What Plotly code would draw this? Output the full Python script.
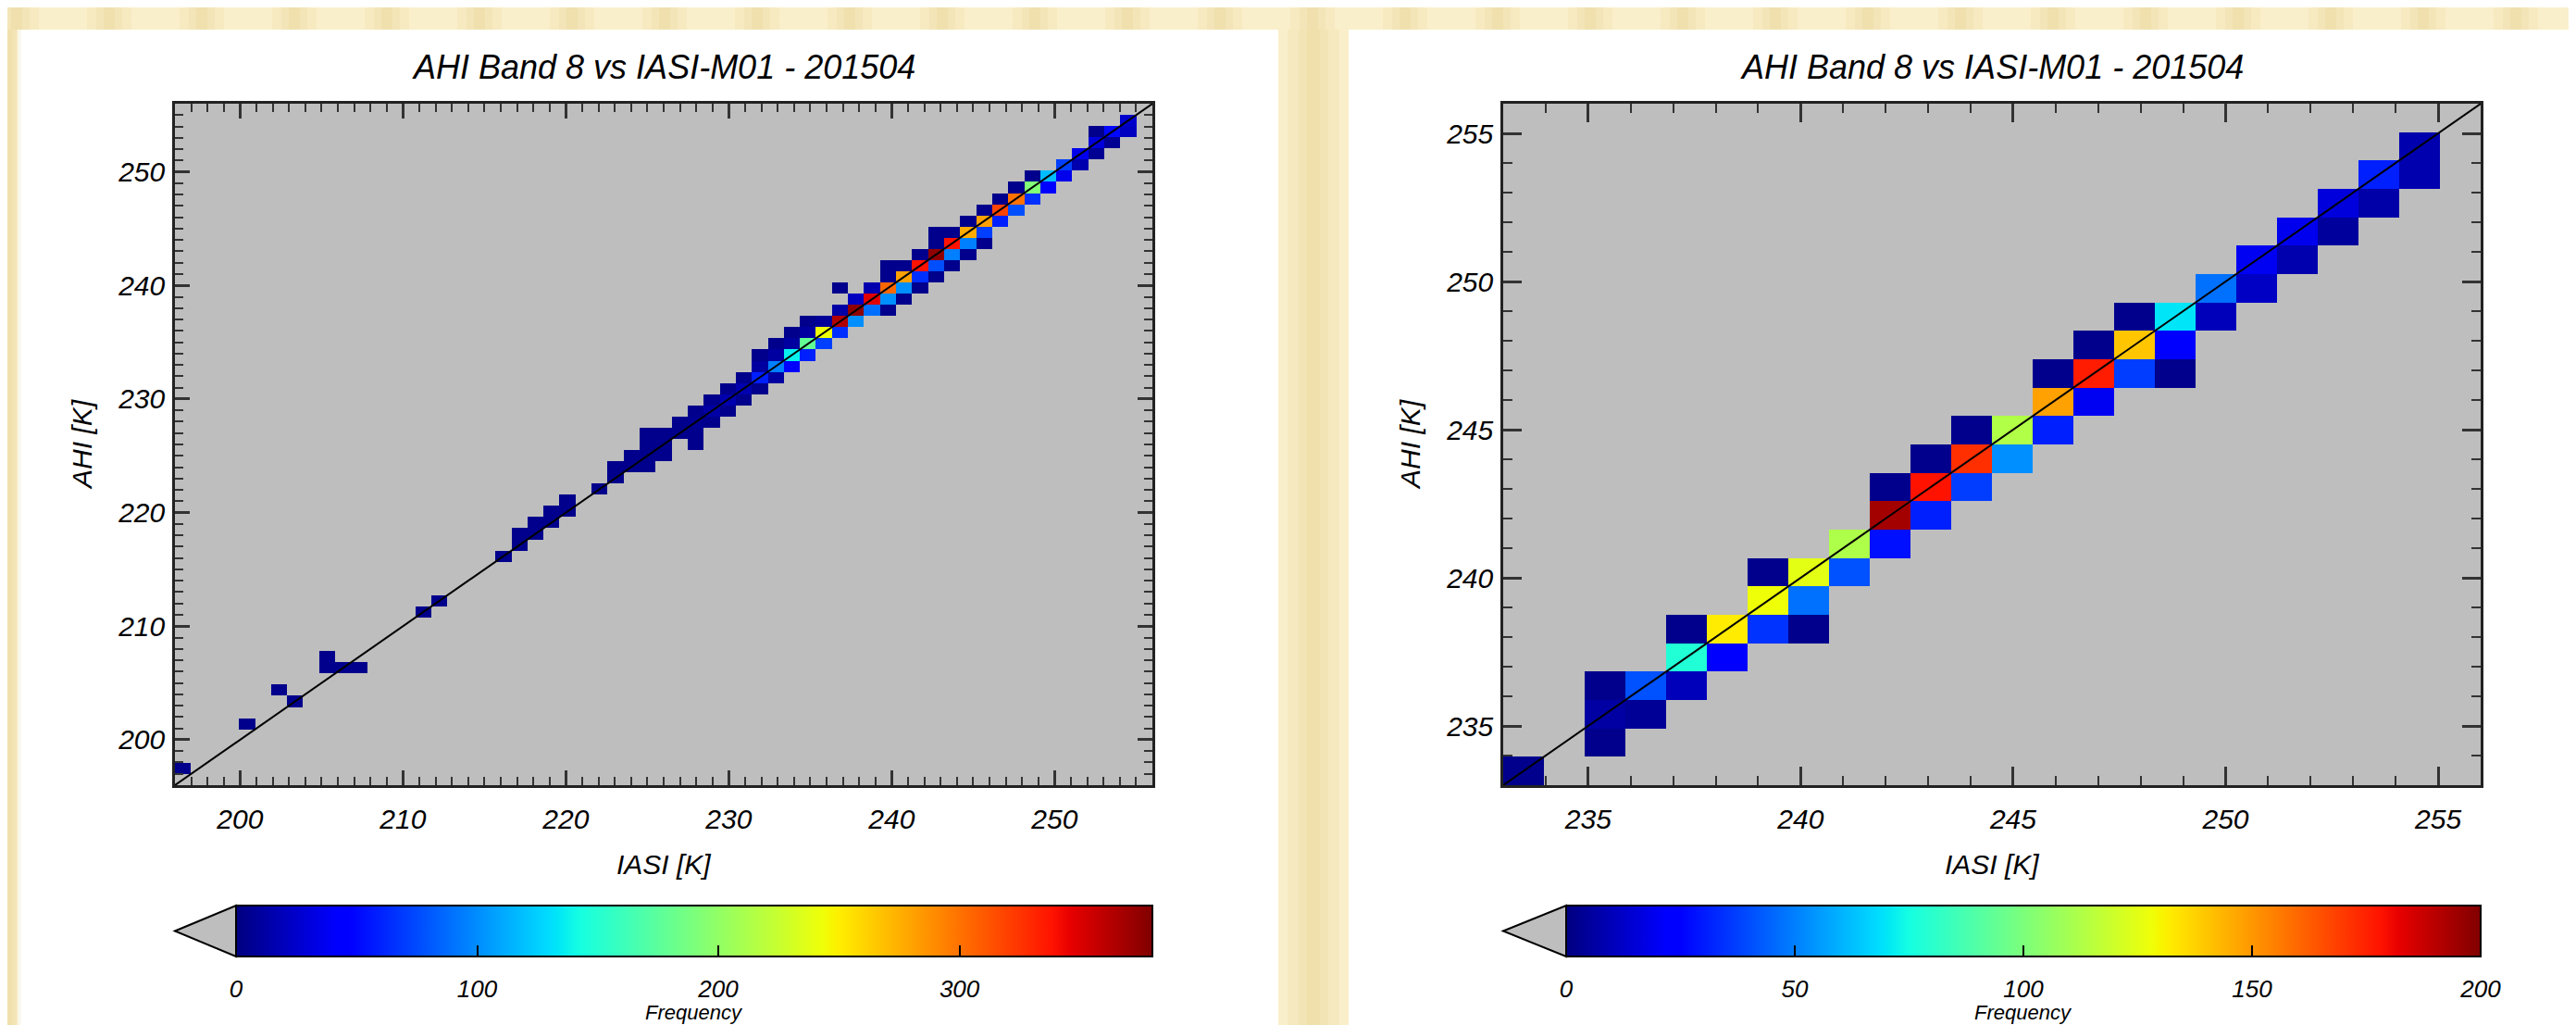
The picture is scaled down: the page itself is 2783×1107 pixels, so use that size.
import numpy as np
import plotly.graph_objects as go

W, H = 2783, 1107

title_text = "AHI Band 8 vs IASI-M01 - 201504"
x_title = "IASI [K]"
y_title = "AHI [K]"
cbar_title = "Frequency"

# ---------------- left panel data ----------------
left_range = [196, 256]
left_nbins = 61
left_cmax = 380
left_ticks = [200, 210, 220, 230, 240, 250]
left_cbar_ticks = [0, 100, 200, 300]
left_cols = [0, 4, 6, 7, 9, 9, 10, 11, 15, 16, 20, 21, 21, 22, 22, 23, 23, 24, 24, 26,
             27, 27, 28, 29, 28, 29, 30, 29, 30, 32, 29, 30, 31, 32, 31, 32, 33, 32, 33, 34,
             33, 34, 35, 34, 35, 36, 35, 36, 37, 36, 37, 38, 36, 37, 38, 39, 37, 38, 39, 40,
             38, 39, 40, 41, 39, 40, 41, 42, 41, 42, 43, 44, 42, 43, 44, 45, 41, 43, 44, 45,
             46, 44, 45, 46, 47, 44, 45, 46, 47, 48, 46, 47, 48, 49, 47, 48, 49, 50, 47, 48,
             49, 50, 49, 50, 51, 50, 51, 52, 51, 52, 53, 52, 53, 54, 53, 54, 55, 55, 56, 56,
             57, 57, 58, 57, 58, 59, 59]
left_rows = [1, 5, 8, 7, 10, 11, 10, 10, 15, 16, 20, 21, 22, 22, 23, 23, 24, 24, 25, 26,
             27, 28, 28, 28, 29, 29, 29, 30, 30, 30, 31, 31, 31, 31, 32, 32, 32, 33, 33, 33,
             34, 34, 34, 35, 35, 35, 36, 36, 36, 37, 37, 37, 38, 38, 38, 38, 39, 39, 39, 39,
             40, 40, 40, 40, 41, 41, 41, 41, 42, 42, 42, 42, 43, 43, 43, 43, 44, 44, 44, 44,
             44, 45, 45, 45, 45, 46, 46, 46, 46, 46, 47, 47, 47, 47, 48, 48, 48, 48, 49, 49,
             49, 49, 50, 50, 50, 51, 51, 51, 52, 52, 52, 53, 53, 53, 54, 54, 54, 55, 55, 56,
             56, 57, 57, 58, 58, 58, 59]
left_counts = [4, 4, 4, 4, 4, 4, 4, 4, 4, 4, 4, 4, 4, 4, 4, 4, 4, 4, 4, 4,
               4, 4, 4, 4, 4, 4, 4, 4, 4, 4, 4, 4, 4, 4, 4, 6, 4, 4, 12, 4,
               4, 15, 4, 4, 15, 4, 4, 59, 11, 11, 95, 44, 4, 11, 137, 59, 4, 11, 178, 71,
               4, 11, 243, 65, 4, 8, 364, 101, 12, 375, 89, 4, 21, 348, 101, 4, 4, 15, 304, 101,
               4, 4, 281, 65, 4, 4, 4, 338, 77, 4, 4, 375, 95, 4, 4, 338, 95, 4, 4, 4,
               277, 71, 4, 281, 59, 4, 319, 77, 4, 300, 65, 4, 192, 44, 4, 118, 36, 71, 15, 36,
               6, 30, 6, 4, 50, 21, 25]

# ---------------- right panel data ----------------
right_range = [233, 256]
right_nbins = 24
right_cmax = 200
right_ticks = [235, 240, 245, 250, 255]
right_cbar_ticks = [0, 50, 100, 150, 200]
right_cols = [0, 2, 2, 2, 3, 3, 4, 4, 4, 5, 5, 6, 6, 6, 7, 7, 7, 8, 8, 9,
              9, 9, 10, 10, 10, 11, 11, 11, 12, 12, 13, 13, 14, 13, 14, 15, 16, 14, 15, 16,
              15, 16, 17, 17, 18, 18, 19, 19, 20, 20, 21, 21, 22, 22]
right_rows = [0, 1, 2, 3, 2, 3, 3, 4, 5, 4, 5, 5, 6, 7, 5, 6, 7, 7, 8, 8,
              9, 10, 9, 10, 11, 10, 11, 12, 11, 12, 12, 13, 13, 14, 14, 14, 14, 15, 15, 15,
              16, 16, 16, 17, 17, 18, 18, 19, 19, 20, 20, 21, 21, 22]
right_counts = [2, 2, 6, 2, 4, 41, 10, 78, 2, 23, 132, 35, 128, 2, 2, 47, 125, 41, 112, 28,
                194, 2, 31, 178, 2, 37, 172, 2, 53, 113, 31, 148, 20, 2, 176, 37, 2, 2, 140, 23,
                2, 70, 10, 47, 12, 20, 8, 19, 5, 16, 7, 31, 8, 8]


# ---------------- helpers ----------------
def px(x):
    return x / W


def py(y):
    return 1 - y / H


def grid(cols, rows, counts, n):
    z = [[None] * n for _ in range(n)]
    for c, r, v in zip(cols, rows, counts):
        z[r][c] = v
    return z


def jet_scale():
    r = [(0, 0), (0.35, 0), (0.66, 1), (0.89, 1), (1, 0.5)]
    g = [(0, 0), (0.125, 0), (0.375, 1), (0.64, 1), (0.91, 0), (1, 0)]
    b = [(0, 0.5), (0.11, 1), (0.34, 1), (0.65, 0), (1, 0)]
    stops = sorted(set([p for p, _ in r + g + b]))
    out = []
    for s in stops:
        ch = [np.interp(s, [p for p, _ in seg], [v for _, v in seg]) for seg in (r, g, b)]
        out.append([s, "rgb(%d,%d,%d)" % tuple(int(round(c * 255)) for c in ch)])
    return out


JET = jet_scale()
FONT = "Liberation Sans, Arial, Helvetica, sans-serif"
GRAY = "#BEBEBE"

fig = go.Figure()

panels = [
    dict(rng=left_range, n=left_nbins, cols=left_cols, rows=left_rows, counts=left_counts,
         cmax=left_cmax, ticks=left_ticks, cticks=left_cbar_ticks,
         px0=181, px1=1237, cb0=247, xa="x", ya="y", ca="coloraxis", tl=16, ml=9,
         xlab=709, ylab=80),
    dict(rng=right_range, n=right_nbins, cols=right_cols, rows=right_rows, counts=right_counts,
         cmax=right_cmax, ticks=right_ticks, cticks=right_cbar_ticks,
         px0=1616, px1=2672, cb0=1684, xa="x2", ya="y2", ca="coloraxis2", tl=20, ml=10,
         xlab=2144, ylab=1515),
]

PLOT_TOP, PLOT_BOT = 104, 840
CB_TOP, CB_BOT = 970, 1025

layout_axes = {}
coloraxes = {}
shapes = []
annotations = []

# decorative cream background regions (outside the white panels)
CREAM = "#FAEFCB"
STRIPE = "#E8D293"
shapes.append(dict(type="rect", xref="paper", yref="paper", x0=0, x1=1, y0=py(24), y1=1,
                   fillcolor=CREAM, line=dict(width=0), layer="below"))
shapes.append(dict(type="rect", xref="paper", yref="paper", x0=0, x1=px(11), y0=0, y1=1,
                   fillcolor=CREAM, line=dict(width=0), layer="below"))
shapes.append(dict(type="rect", xref="paper", yref="paper", x0=px(1373), x1=px(1449), y0=0, y1=1,
                   fillcolor=CREAM, line=dict(width=0), layer="below"))
for c in range(10, W, 100):
    for w, op in ((24, 0.18), (14, 0.2), (6, 0.22)):
        shapes.append(dict(type="rect", xref="paper", yref="paper", x0=px(c - w), x1=px(c + w),
                           y0=py(24), y1=1, fillcolor=STRIPE, opacity=op, line=dict(width=0),
                           layer="below"))
for c, ww in ((1411, 1.0), (2, 0.45)):
    for w, op in ((28 * ww, 0.2), (16 * ww, 0.22), (7 * ww, 0.25)):
        shapes.append(dict(type="rect", xref="paper", yref="paper", x0=px(c - w), x1=px(c + w),
                           y0=0, y1=py(24), fillcolor=STRIPE, opacity=op, line=dict(width=0),
                           layer="below"))

for i, p in enumerate(panels):
    lo, hi = p["rng"]
    dx = (hi - lo) / p["n"]
    z = grid(p["cols"], p["rows"], p["counts"], p["n"])
    fig.add_trace(go.Heatmap(z=z, x0=lo + dx / 2, dx=dx, y0=lo + dx / 2, dy=dx,
                             coloraxis=p["ca"], xaxis=p["xa"], yaxis=p["ya"],
                             hoverongaps=False))
    fig.add_trace(go.Scatter(x=p["rng"], y=p["rng"], mode="lines",
                             line=dict(color="black", width=2),
                             xaxis=p["xa"], yaxis=p["ya"], showlegend=False, hoverinfo="skip"))

    suffix = "" if i == 0 else "2"
    tick_step = p["ticks"][1] - p["ticks"][0]
    common = dict(range=p["rng"], tickmode="linear", tick0=p["ticks"][0], dtick=tick_step,
                  ticks="inside", ticklen=p["tl"], tickwidth=2.5, tickcolor="#333",
                  minor=dict(ticks="inside", ticklen=p["ml"], tickwidth=2, tickcolor="#333",
                             dtick=1, tick0=p["ticks"][0]),
                  mirror="allticks", showline=True, linecolor="#222", linewidth=2.5,
                  showgrid=False, zeroline=False, automargin=False,
                  tickfont=dict(family=FONT, size=30, color="black", style="italic"))
    layout_axes["xaxis" + suffix] = dict(common, domain=[px(p["px0"]), px(p["px1"])],
                                         anchor="y" + suffix, ticklabelstandoff=8)
    layout_axes["yaxis" + suffix] = dict(common, domain=[py(PLOT_BOT), py(PLOT_TOP)],
                                         anchor="x" + suffix, ticklabelstandoff=2)

    # colour axis with native horizontal colour bar
    coloraxes[p["ca"]] = dict(
        cmin=0, cmax=p["cmax"], colorscale=JET,
        colorbar=dict(orientation="h", lenmode="pixels", len=p["px1"] - p["cb0"],
                      thicknessmode="pixels", thickness=CB_BOT - CB_TOP,
                      x=px((p["cb0"] + p["px1"]) / 2), xanchor="center",
                      y=py(CB_TOP), yanchor="top", xpad=0, ypad=0,
                      outlinewidth=2, outlinecolor="black",
                      ticks="inside", ticklen=13, tickwidth=2, tickcolor="black",
                      tickmode="array", tickvals=p["cticks"], showticklabels=False))

    # tick-label axis for the colour bar
    cx = "xaxis" + str(3 + i)
    cy = "yaxis" + str(3 + i)
    layout_axes[cx] = dict(domain=[px(p["cb0"]), px(p["px1"])], range=[0, p["cmax"]],
                           anchor="y" + str(3 + i), tickmode="array", tickvals=p["cticks"],
                           ticks="", showline=False, showgrid=False, zeroline=False,
                           automargin=False, ticklabelstandoff=16,
                           tickfont=dict(family=FONT, size=26, color="black", style="italic"))
    layout_axes[cy] = dict(domain=[py(CB_BOT + 1), py(CB_BOT)], range=[0, 1], visible=False,
                           anchor="x" + str(3 + i))
    fig.add_trace(go.Scatter(x=[], y=[], xaxis="x" + str(3 + i), yaxis="y" + str(3 + i),
                             showlegend=False, hoverinfo="skip"))

    # out-of-range triangle on the colour bar
    tri = "M %f,%f L %f,%f L %f,%f Z" % (px(p["px0"]), py((CB_TOP + CB_BOT) / 2),
                                         px(p["cb0"]), py(CB_TOP), px(p["cb0"]), py(CB_BOT))
    shapes.append(dict(type="path", xref="paper", yref="paper", path=tri,
                       fillcolor=GRAY, line=dict(color="black", width=2), layer="above"))

    # titles
    annotations.append(dict(text=title_text, xref="paper", yref="paper",
                            x=px((p["px0"] + p["px1"]) / 2), y=py(64), xanchor="center",
                            yanchor="middle", showarrow=False,
                            font=dict(family=FONT, size=36, color="black", style="italic")))
    annotations.append(dict(text=x_title, xref="paper", yref="paper", x=px(p["xlab"]), y=py(925),
                            xanchor="center", yanchor="middle", showarrow=False,
                            font=dict(family=FONT, size=30, color="black", style="italic")))
    annotations.append(dict(text=y_title, xref="paper", yref="paper", x=px(p["ylab"]),
                            y=py((PLOT_TOP + PLOT_BOT) / 2), xanchor="center", yanchor="middle",
                            textangle=-90, showarrow=False,
                            font=dict(family=FONT, size=30, color="black", style="italic")))
    annotations.append(dict(text=cbar_title, xref="paper", yref="paper",
                            x=px((p["cb0"] + p["px1"]) / 2), y=py(1099), xanchor="center",
                            yanchor="bottom", showarrow=False, borderpad=0,
                            font=dict(family=FONT, size=22, color="black", style="italic")))

fig.update_layout(
    width=W, height=H, autosize=False,
    margin=dict(l=0, r=0, t=0, b=0, pad=0),
    paper_bgcolor="white", plot_bgcolor=GRAY,
    showlegend=False,
    shapes=shapes, annotations=annotations,
    **layout_axes, **coloraxes,
)

fig.write_html("out.html")
